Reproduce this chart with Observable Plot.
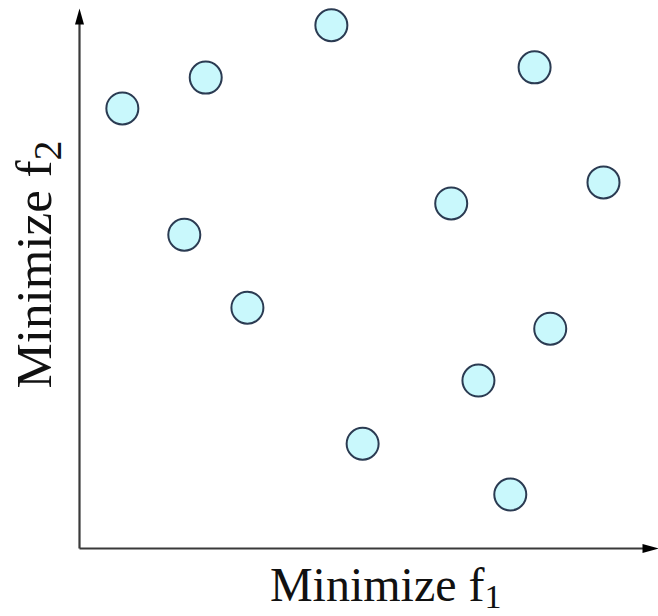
<!DOCTYPE html>
<html>
<head>
<meta charset="utf-8">
<script src="https://cdn.jsdelivr.net/npm/d3@7"></script>
<script src="https://cdn.jsdelivr.net/npm/@observablehq/plot@0.6"></script>
<style>
  html, body { margin: 0; padding: 0; background: #ffffff; }
  #chart svg { display: block; }
</style>
</head>
<body>
<div id="chart"></div>
<script>
// Objective values of the 12 solutions (arbitrary units, 0..10)
const f1 = [0.74, 2.18, 4.35, 7.86, 9.05, 6.42, 1.81, 2.90, 8.13, 6.89, 4.89, 7.44];
const f2 = [8.15, 8.72, 9.69, 8.91, 6.78, 6.39, 5.81, 4.46, 4.07, 3.11, 1.94, 1.00];

// Axis labels (main text + subscript)
const xLabel = ["Minimize f"];
const xSub = ["1"];
const yLabel = ["Minimize f"];
const ySub = ["2"];

// Axis arrows: from origin to tip
const axisX1 = [0, 0];
const axisY1 = [0, 0];
const axisX2 = [10, 0];
const axisY2 = [0, 10];
const axisRotate = [90, 0];

const points = f1.map((x, i) => ({x, y: f2[i]}));
const axes = axisX1.map((_, i) => ({x1: axisX1[i], y1: axisY1[i], x2: axisX2[i], y2: axisY2[i], rot: axisRotate[i]}));

// Filled, narrow arrowhead whose tip sits at the anchor point (points up before rotation)
const arrowHead = {
  draw(context) {
    context.moveTo(0, 0);
    context.lineTo(-4.5, 16);
    context.lineTo(4.5, 16);
    context.closePath();
  }
};

const chart = Plot.plot({
  width: 658,
  height: 616,
  marginLeft: 79,
  marginRight: 0,
  marginTop: 8,
  marginBottom: 68,
  x: {domain: [0, 10], axis: null},
  y: {domain: [0, 10], axis: null},
  style: {background: "#ffffff", fontFamily: "'Liberation Serif', 'Times New Roman', serif"},
  marks: [
    Plot.link(axes, {x1: "x1", y1: "y1", x2: d => d.x2 === 0 ? 0 : d.x2 - 0.15, y2: d => d.y2 === 0 ? 0 : d.y2 - 0.2, stroke: "#3a3a3a", strokeWidth: 2.2}),
    Plot.dot(axes, {x: "x2", y: "y2", symbol: arrowHead, rotate: "rot", fill: "#000000", stroke: "none", r: 8}),
    Plot.dot(points, {x: "x", y: "y", r: 16, fill: "#c9f8fc", stroke: "#2b3b52", strokeWidth: 2}),
    Plot.text(xLabel, {text: d => d, frameAnchor: "bottom-left", textAnchor: "end", lineAnchor: "bottom", dx: 405, dy: 52, fontSize: 48, fill: "#111111"}),
    Plot.text(xSub, {text: d => d, frameAnchor: "bottom-left", textAnchor: "start", lineAnchor: "bottom", dx: 405, dy: 59, fontSize: 34, fill: "#111111"}),
    Plot.text(yLabel, {text: d => d, frameAnchor: "top-left", textAnchor: "end", lineAnchor: "bottom", rotate: -90, dx: -29, dy: 152, fontSize: 51, fill: "#111111"}),
    Plot.text(ySub, {text: d => d, frameAnchor: "top-left", textAnchor: "start", lineAnchor: "bottom", rotate: -90, dx: -19, dy: 152, fontSize: 40, fill: "#111111"})
  ]
});

document.getElementById("chart").appendChild(chart);
</script>
</body>
</html>
